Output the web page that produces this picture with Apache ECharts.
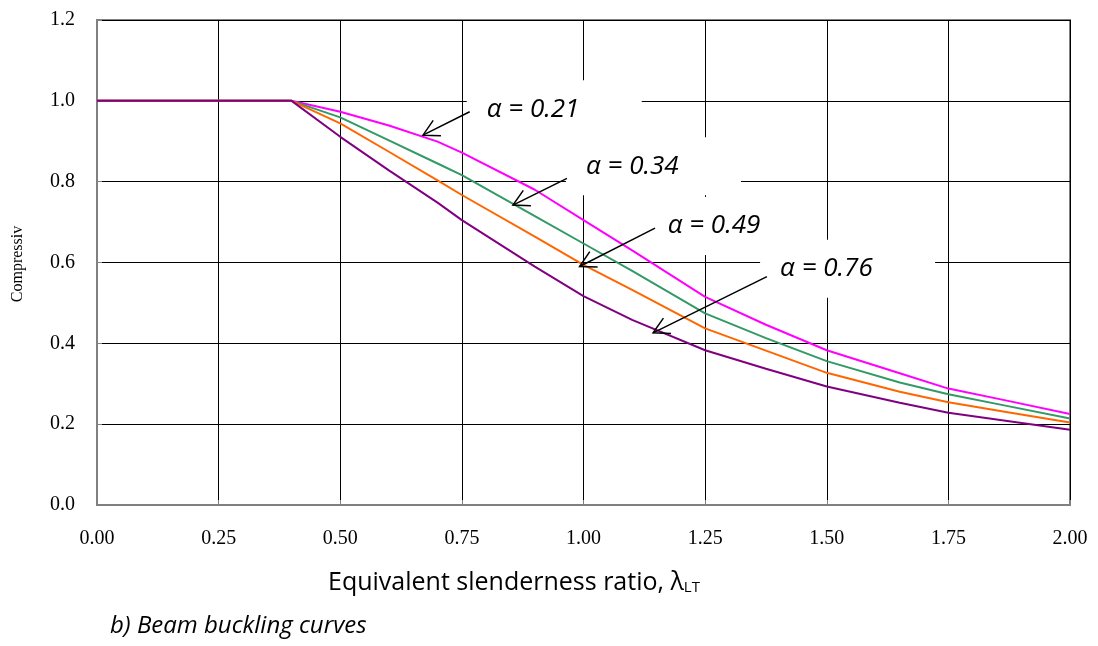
<!DOCTYPE html>
<html>
<head>
<meta charset="utf-8">
<script src="https://cdn.jsdelivr.net/npm/echarts@6/dist/echarts.min.js"></script>
<style>
  html, body { margin: 0; padding: 0; background: #fff; }
  #chart { width: 1098px; height: 646px; }
</style>
</head>
<body>
<div id="chart"></div>
<script>
// slenderness values (x)
const lambda = [0, 0.1, 0.175, 0.25, 0.325, 0.4, 0.5, 0.6, 0.7, 0.75, 0.9, 1.0, 1.1, 1.25, 1.375, 1.5, 1.65, 1.75, 1.875, 2.0];

// reduction factor
const curve021 = [1, 1, 1, 1, 1, 1, 0.973, 0.939, 0.899, 0.872, 0.780, 0.705, 0.630, 0.515, 0.446, 0.383, 0.326, 0.288, 0.257, 0.225];
const curve034 = [1, 1, 1, 1, 1, 1, 0.959, 0.902, 0.845, 0.816, 0.715, 0.647, 0.579, 0.474, 0.413, 0.356, 0.303, 0.274, 0.244, 0.214];
const curve049 = [1, 1, 1, 1, 1, 1, 0.944, 0.874, 0.803, 0.767, 0.664, 0.594, 0.532, 0.437, 0.382, 0.327, 0.280, 0.254, 0.229, 0.204];
const curve076 = [1, 1, 1, 1, 1, 1, 0.911, 0.828, 0.748, 0.705, 0.590, 0.517, 0.458, 0.383, 0.337, 0.293, 0.253, 0.228, 0.207, 0.186];

const labels = ["α = 0.21", "α = 0.34", "α = 0.49", "α = 0.76"];
// arrow tail / head and label box corner, in data units
const arrowTails = [[0.766, 0.973], [0.966, 0.808], [1.147, 0.685], [1.377, 0.565]];
const arrowHeads = [[0.670, 0.915], [0.855, 0.742], [0.992, 0.590], [1.143, 0.426]];
const boxCorners = [[0.760, 1.051], [0.964, 0.910], [1.132, 0.762], [1.363, 0.656]];

const colors = ["#FF00FF", "#339966", "#FF6600", "#800080"];
const curves = [curve021, curve034, curve049, curve076];

const serif = "'Liberation Serif', 'Times New Roman', serif";
const sans = "'Open Sans', 'DejaVu Sans', sans-serif";

const pair = (ys) => lambda.map((x, i) => [x, ys[i]]);

const chart = echarts.init(document.getElementById("chart"));

chart.setOption({
    animation: false,
    grid: {
        left: 97, right: 28, top: 20, bottom: 141,
        show: true, borderColor: "#808080", borderWidth: 2
    },
    xAxis: {
        type: "value", min: 0, max: 2, interval: 0.25,
        axisLine: { show: true, lineStyle: { color: "#808080", width: 2 } },
        axisTick: { show: true, inside: true, length: 5, lineStyle: { color: "#808080" } },
        axisLabel: { color: "#000", fontFamily: serif, fontSize: 20, margin: 24,
            formatter: (v) => v.toFixed(2) },
        splitLine: { show: true, lineStyle: { color: "#000", width: 1 } }
    },
    yAxis: {
        type: "value", min: 0, max: 1.2, interval: 0.2,
        axisLine: { show: true, lineStyle: { color: "#808080", width: 2 } },
        axisTick: { show: true, inside: true, length: 5, lineStyle: { color: "#808080" } },
        axisLabel: { color: "#000", fontFamily: serif, fontSize: 20, margin: 22,
            formatter: (v) => v.toFixed(1) },
        splitLine: { show: true, lineStyle: { color: "#000", width: 1 } }
    },
    series: curves.map((c, i) => ({
        type: "line",
        data: pair(c),
        showSymbol: false,
        z: 3 + i,
        lineStyle: { color: colors[i], width: 2 }
    }))
});

// annotations: white label boxes, text and open arrows
const toPx = (p) => chart.convertToPixel({ gridIndex: 0 }, p);
const graphics = [];

labels.forEach((txt, i) => {
    const corner = toPx(boxCorners[i]);
    graphics.push({
        type: "rect", z: 1,
        shape: { x: corner[0], y: corner[1], width: 175, height: 58 },
        style: { fill: "#fff" }
    });
    graphics.push({
        type: "text", z: 10,
        x: corner[0] + 20, y: corner[1] + 29,
        style: { text: txt, fill: "#000", font: "italic 26px " + sans,
            textVerticalAlign: "middle", textAlign: "left" }
    });

    const t = toPx(arrowTails[i]);
    const h = toPx(arrowHeads[i]);
    const ang = Math.atan2(t[1] - h[1], t[0] - h[0]);
    const len = 18, spread = 0.5;
    const b1 = [h[0] + len * Math.cos(ang + spread), h[1] + len * Math.sin(ang + spread)];
    const b2 = [h[0] + len * Math.cos(ang - spread), h[1] + len * Math.sin(ang - spread)];
    graphics.push({
        type: "polyline", z: 10,
        shape: { points: [t, h] },
        style: { stroke: "#000", lineWidth: 1.5, fill: null }
    });
    graphics.push({
        type: "polyline", z: 10,
        shape: { points: [b1, h, b2] },
        style: { stroke: "#000", lineWidth: 1.5, fill: null }
    });
});

// axis titles and caption
graphics.push({
    type: "text", z: 10, x: 18, y: 264, rotation: Math.PI / 2,
    style: { text: "Compressiv", fill: "#000", font: "16px " + serif,
        textAlign: "center", textVerticalAlign: "middle" }
});
graphics.push({
    type: "text", z: 10, x: 328, y: 583,
    style: {
        text: "{m|Equivalent slenderness ratio, λ}{s|LT}",
        textVerticalAlign: "middle",
        rich: {
            m: { fontFamily: sans, fontSize: 25, color: "#000" },
            s: { fontFamily: sans, fontSize: 15, color: "#000", padding: [10, 0, 0, 0] }
        }
    }
});
graphics.push({
    type: "text", z: 10, x: 110, y: 626,
    style: { text: "b) Beam buckling curves", fill: "#000", font: "italic 24px " + sans,
        textVerticalAlign: "middle" }
});

chart.setOption({ graphic: graphics });
</script>
</body>
</html>
